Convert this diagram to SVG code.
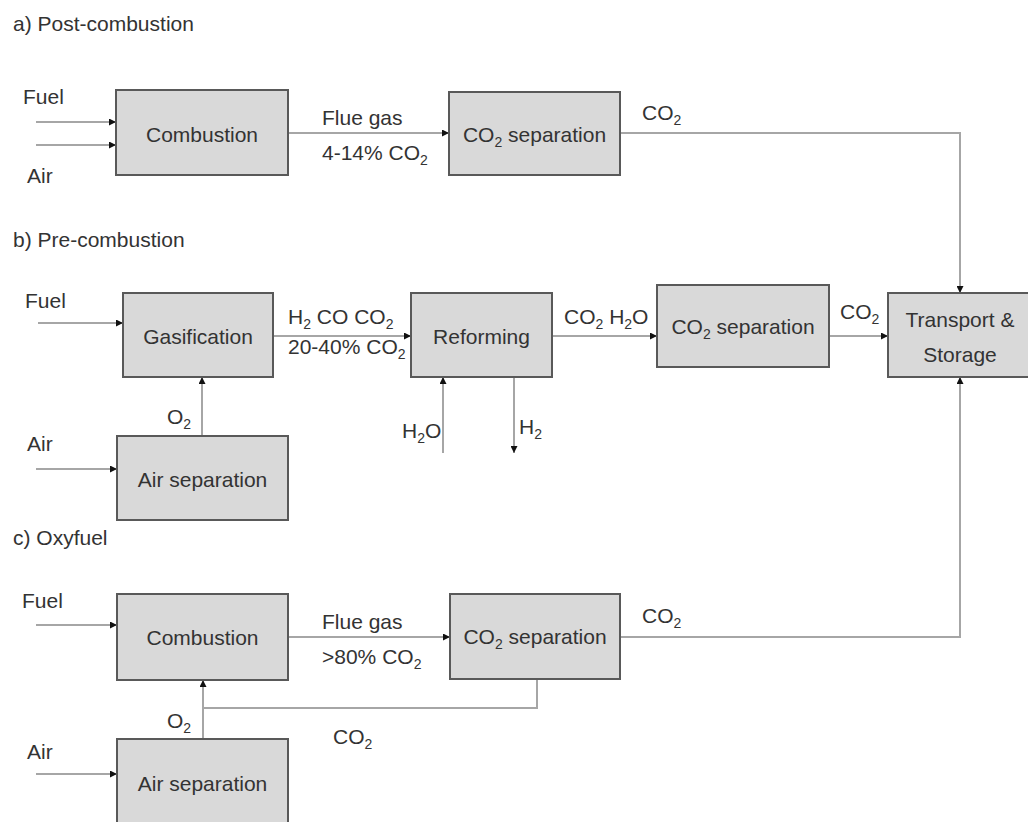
<svg xmlns="http://www.w3.org/2000/svg" width="1028" height="822" viewBox="0 0 1028 822">
<defs>
<style>
text{font-family:"Liberation Sans",Arial,sans-serif;font-size:21px;fill:#333}
.c{text-anchor:middle}
.s{font-size:14px}
.box{fill:#d9d9d9;stroke:#595959;stroke-width:2}
.ln{fill:none;stroke:#a6a6a6;stroke-width:2}
</style>
<marker id="ah" viewBox="0 0 7 7" refX="7" refY="3.5" markerWidth="7" markerHeight="7" markerUnits="userSpaceOnUse" orient="auto">
<path d="M0,0 L7,3.5 L0,7 z" fill="#111"/>
</marker>
</defs>
<rect width="1028" height="822" fill="#fff"/>

<text x="13" y="31">a) Post-combustion</text>
<text x="13" y="247">b) Pre-combustion</text>
<text x="13" y="545">c) Oxyfuel</text>

<g id="connectors">
<!-- a -->
<line class="ln" x1="36" y1="122" x2="116" y2="122" marker-end="url(#ah)"/>
<line class="ln" x1="36" y1="145" x2="116" y2="145" marker-end="url(#ah)"/>
<line class="ln" x1="288" y1="133" x2="449" y2="133" marker-end="url(#ah)"/>
<polyline class="ln" points="620,133 960,133 960,293" marker-end="url(#ah)"/>
<!-- b -->
<line class="ln" x1="38" y1="323" x2="123" y2="323" marker-end="url(#ah)"/>
<line class="ln" x1="273" y1="336" x2="411" y2="336" marker-end="url(#ah)"/>
<line class="ln" x1="552" y1="336" x2="657" y2="336" marker-end="url(#ah)"/>
<line class="ln" x1="829" y1="336" x2="888" y2="336" marker-end="url(#ah)"/>
<line class="ln" x1="443" y1="453" x2="443" y2="377" marker-end="url(#ah)"/>
<line class="ln" x1="514" y1="377" x2="514" y2="453" marker-end="url(#ah)"/>
<line class="ln" x1="202" y1="436" x2="202" y2="377" marker-end="url(#ah)"/>
<line class="ln" x1="36" y1="469" x2="117" y2="469" marker-end="url(#ah)"/>
<!-- c -->
<line class="ln" x1="36" y1="625" x2="117" y2="625" marker-end="url(#ah)"/>
<line class="ln" x1="288" y1="637" x2="450" y2="637" marker-end="url(#ah)"/>
<polyline class="ln" points="620,637 960,637 960,377" marker-end="url(#ah)"/>
<polyline class="ln" points="537,679 537,708 203,708"/>
<line class="ln" x1="203" y1="739" x2="203" y2="680" marker-end="url(#ah)"/>
<line class="ln" x1="36" y1="774" x2="117" y2="774" marker-end="url(#ah)"/>
</g>

<g id="labels">
<text x="23" y="104">Fuel</text>
<text x="27" y="183">Air</text>
<text x="322" y="125">Flue gas</text>
<text x="322" y="160">4-14% CO<tspan class="s" dy="5">2</tspan></text>
<text x="642" y="120">CO<tspan class="s" dy="5">2</tspan></text>

<text x="25" y="308">Fuel</text>
<text x="288" y="324">H<tspan class="s" dy="5">2</tspan><tspan dy="-5"> CO CO</tspan><tspan class="s" dy="5">2</tspan></text>
<text x="288" y="354">20-40% CO<tspan class="s" dy="5">2</tspan></text>
<text x="564" y="324">CO<tspan class="s" dy="5">2</tspan><tspan dy="-5"> H</tspan><tspan class="s" dy="5">2</tspan><tspan dy="-5">O</tspan></text>
<text x="840" y="319">CO<tspan class="s" dy="5">2</tspan></text>
<text x="402" y="438">H<tspan class="s" dy="5">2</tspan><tspan dy="-5">O</tspan></text>
<text x="519" y="434">H<tspan class="s" dy="5">2</tspan></text>
<text x="167" y="424">O<tspan class="s" dy="5">2</tspan></text>
<text x="27" y="451">Air</text>

<text x="22" y="608">Fuel</text>
<text x="322" y="629">Flue gas</text>
<text x="322" y="664">&gt;80% CO<tspan class="s" dy="5">2</tspan></text>
<text x="642" y="623">CO<tspan class="s" dy="5">2</tspan></text>
<text x="167" y="728">O<tspan class="s" dy="5">2</tspan></text>
<text x="333" y="744">CO<tspan class="s" dy="5">2</tspan></text>
<text x="27" y="759">Air</text>
</g>

<g id="a-combustion"><rect class="box" x="116" y="90" width="172" height="85"/><text class="c" x="202" y="142">Combustion</text></g>
<g id="a-co2sep"><rect class="box" x="449" y="92" width="171" height="83"/><text class="c" x="534.5" y="142">CO<tspan class="s" dy="5">2</tspan><tspan dy="-5"> separation</tspan></text></g>

<g id="b-gasification"><rect class="box" x="123" y="293" width="150" height="84"/><text class="c" x="198" y="344">Gasification</text></g>
<g id="b-reforming"><rect class="box" x="411" y="293" width="141" height="84"/><text class="c" x="481.5" y="344">Reforming</text></g>
<g id="b-co2sep"><rect class="box" x="657" y="285" width="172" height="82"/><text class="c" x="743" y="334">CO<tspan class="s" dy="5">2</tspan><tspan dy="-5"> separation</tspan></text></g>
<g id="b-airsep"><rect class="box" x="117" y="436" width="171" height="84"/><text class="c" x="202.5" y="487">Air separation</text></g>
<g id="transport"><rect class="box" x="888" y="293" width="144" height="84"/><text class="c" x="960" y="327">Transport &amp;</text><text class="c" x="960" y="362">Storage</text></g>

<g id="c-combustion"><rect class="box" x="117" y="594" width="171" height="86"/><text class="c" x="202.5" y="645">Combustion</text></g>
<g id="c-co2sep"><rect class="box" x="450" y="594" width="170" height="85"/><text class="c" x="535" y="644">CO<tspan class="s" dy="5">2</tspan><tspan dy="-5"> separation</tspan></text></g>
<g id="c-airsep"><rect class="box" x="117" y="739" width="171" height="100"/><text class="c" x="202.5" y="791">Air separation</text></g>
</svg>
